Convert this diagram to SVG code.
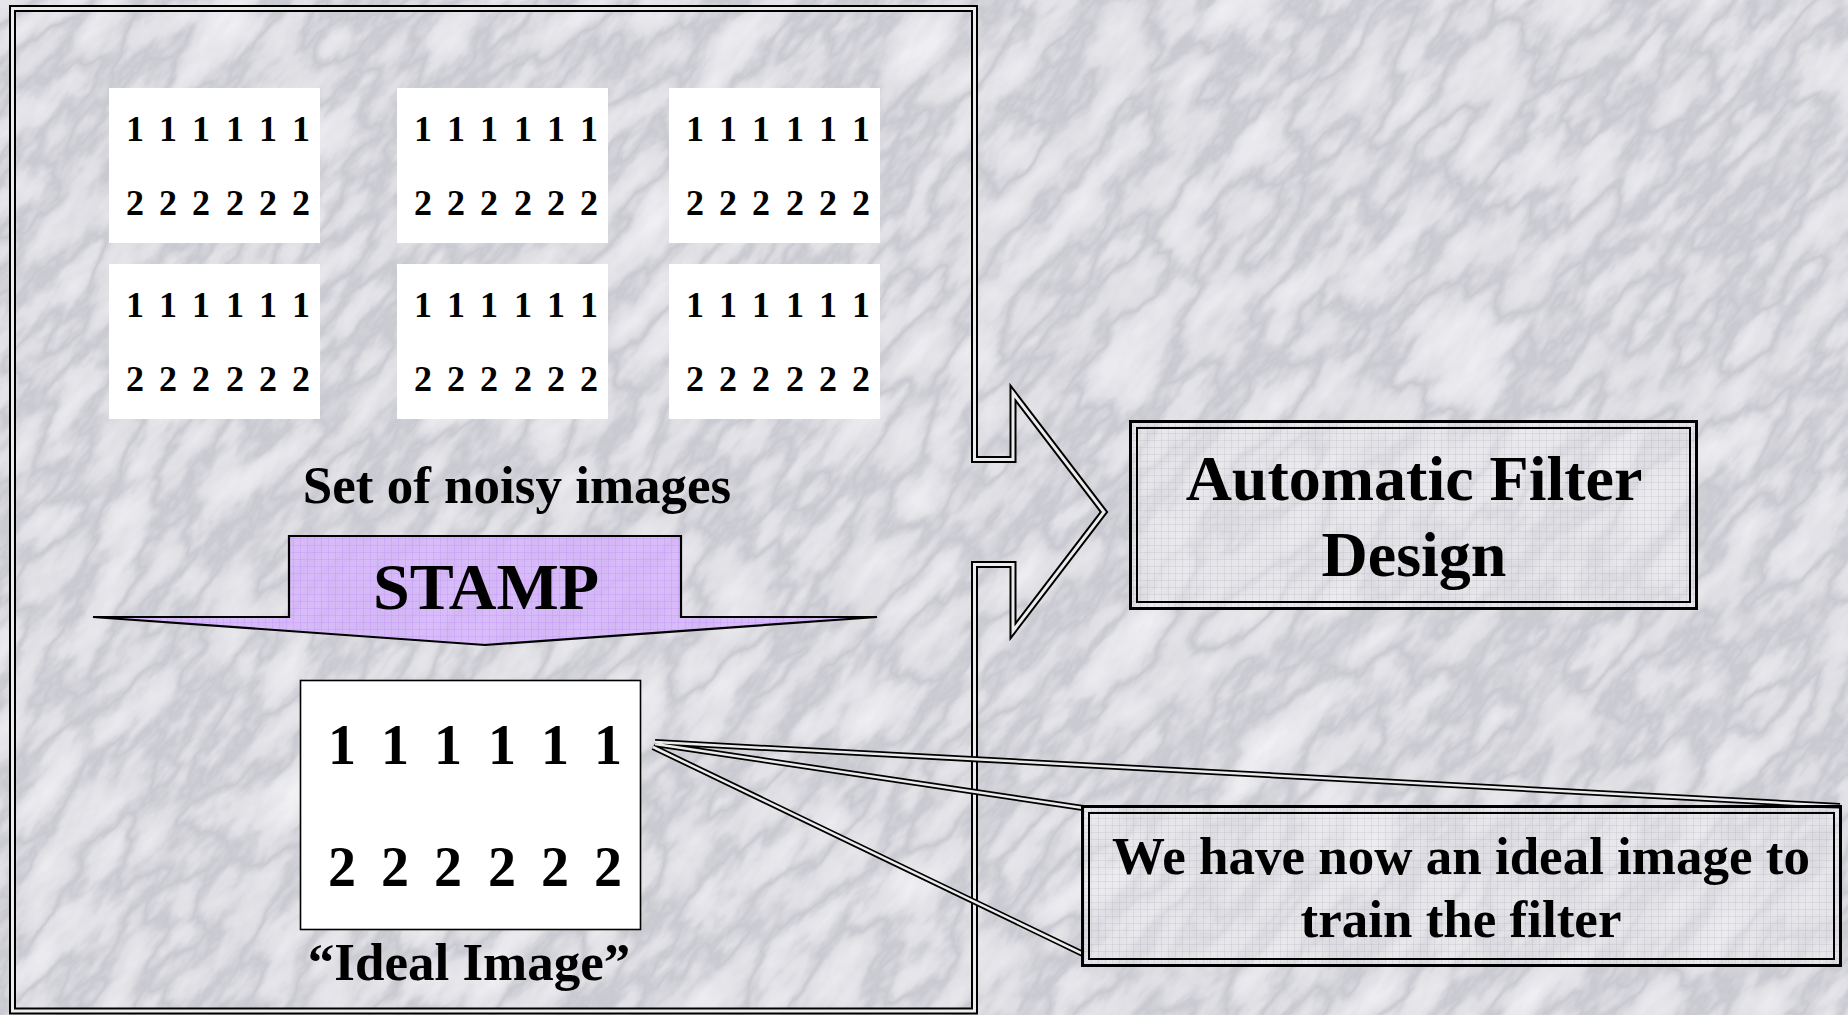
<svg xmlns="http://www.w3.org/2000/svg" width="1848" height="1015" viewBox="0 0 1848 1015">
<defs>
<filter id="marble" x="-700" y="-700" width="3300" height="2500" filterUnits="userSpaceOnUse" color-interpolation-filters="sRGB">
<feTurbulence type="fractalNoise" baseFrequency="0.009 0.022" numOctaves="5" seed="11"/>
<feColorMatrix type="matrix" values="1 0 0 0 0  1 0 0 0 0  1 0 0 0 0  0 0 0 0 1"/>
<feComponentTransfer>
<feFuncR type="table" tableValues="0.96 0.94 0.91 0.88 0.79 0.87 0.9 0.93 0.96"/>
<feFuncG type="table" tableValues="0.96 0.94 0.91 0.88 0.79 0.87 0.9 0.93 0.96"/>
<feFuncB type="table" tableValues="0.97 0.95 0.93 0.9 0.82 0.89 0.92 0.95 0.97"/>
</feComponentTransfer>
</filter>
<pattern id="grid" width="7" height="7" patternUnits="userSpaceOnUse">
<rect width="7" height="7" fill="#ececef" fill-opacity="0.5"/>
<path d="M7 0V7H0" fill="none" stroke="#8f8f9a" stroke-opacity="0.3" stroke-width="1"/>
</pattern>
<pattern id="lav" width="7" height="7" patternUnits="userSpaceOnUse">
<rect width="7" height="7" fill="#d6b2fc" fill-opacity="0.82"/>
<path d="M7 0V7H0" fill="none" stroke="#b47cf2" stroke-opacity="0.45" stroke-width="1"/>
</pattern>
<style>
.t{font-family:"Liberation Serif","Times New Roman",serif;font-weight:bold;fill:#000;text-anchor:middle}
.nd{font-size:36px}
.id{font-size:56px}
.lb{font-size:53px}
.img{fill:#fff}
.dl1{fill:none;stroke:#000;stroke-width:7;stroke-linejoin:miter}
.dl2{fill:none;stroke:#ececec;stroke-width:3;stroke-linejoin:miter}
.ln1{fill:none;stroke:#000;stroke-width:6}
.ln2{fill:none;stroke:#ececec;stroke-width:2.5}
.box{fill:url(#grid)}
.bo{fill:none;stroke:#000;stroke-width:3}
.bi{fill:none;stroke:#000;stroke-width:2}
</style>
</defs>

<g id="background">
<rect width="1848" height="1015" fill="#dcdce0"/>
<g transform="rotate(-50 924 507)">
<rect x="-700" y="-700" width="3300" height="2500" fill="#ddd" filter="url(#marble)"/>
</g>
</g>

<g id="frame-arrow">
<path class="dl1" d="M12.5,8.5 H974.5 V459.5 H1013 V393 L1104,512 L1013,631 V564.5 H974.5 V1011 H12.5 Z"/>
<path class="dl2" d="M12.5,8.5 H974.5 V459.5 H1013 V393 L1104,512 L1013,631 V564.5 H974.5 V1011 H12.5 Z"/>
</g>

<g id="noisy-1" transform="translate(109 88)">
<rect class="img" width="211" height="155"/>
<text class="t nd" x="26 59 92 126 159 192" y="53">111111</text>
<text class="t nd" x="26 59 92 126 159 192" y="127">222222</text>
</g>
<g id="noisy-2" transform="translate(397 88)">
<rect class="img" width="211" height="155"/>
<text class="t nd" x="26 59 92 126 159 192" y="53">111111</text>
<text class="t nd" x="26 59 92 126 159 192" y="127">222222</text>
</g>
<g id="noisy-3" transform="translate(669 88)">
<rect class="img" width="211" height="155"/>
<text class="t nd" x="26 59 92 126 159 192" y="53">111111</text>
<text class="t nd" x="26 59 92 126 159 192" y="127">222222</text>
</g>
<g id="noisy-4" transform="translate(109 264)">
<rect class="img" width="211" height="155"/>
<text class="t nd" x="26 59 92 126 159 192" y="53">111111</text>
<text class="t nd" x="26 59 92 126 159 192" y="127">222222</text>
</g>
<g id="noisy-5" transform="translate(397 264)">
<rect class="img" width="211" height="155"/>
<text class="t nd" x="26 59 92 126 159 192" y="53">111111</text>
<text class="t nd" x="26 59 92 126 159 192" y="127">222222</text>
</g>
<g id="noisy-6" transform="translate(669 264)">
<rect class="img" width="211" height="155"/>
<text class="t nd" x="26 59 92 126 159 192" y="53">111111</text>
<text class="t nd" x="26 59 92 126 159 192" y="127">222222</text>
</g>

<g id="noisy-label">
<text class="t lb" x="517" y="503">Set of noisy images</text>
</g>

<g id="stamp">
<path d="M93,617 H289 V536 H681 V617 H877 L485,645 Z" fill="url(#lav)" stroke="#000" stroke-width="2.2" stroke-linejoin="miter"/>
<text class="t" x="486" y="609" font-size="66">STAMP</text>
</g>

<g id="connectors">
<path class="ln1" d="M655,742 L1840,806 M655,744 L1083,808 M653,747 L1083,954"/>
<path class="ln2" d="M655,742 L1840,806 M655,744 L1083,808 M653,747 L1083,954"/>
</g>

<g id="ideal-image">
<rect x="300.5" y="680.5" width="340" height="249" fill="#fff" stroke="#000" stroke-width="1.6"/>
<text class="t id" x="342 395 448 502 555 608" y="764">111111</text>
<text class="t id" x="342 395 448 502 555 608" y="886">222222</text>
</g>

<g id="ideal-label">
<text class="t lb" x="469" y="980">“Ideal Image”</text>
</g>

<g id="filter-design">
<rect class="box" x="1130.5" y="421.5" width="566" height="187"/>
<rect class="bo" x="1130.5" y="421.5" width="566" height="187"/>
<rect class="bi" x="1137" y="428" width="553" height="174"/>
<text class="t" x="1414" y="500" font-size="64">Automatic Filter</text>
<text class="t" x="1414" y="576" font-size="64">Design</text>
</g>

<g id="callout">
<rect class="box" x="1082.5" y="806.5" width="758" height="159"/>
<rect class="bo" x="1082.5" y="806.5" width="758" height="159"/>
<rect class="bi" x="1089" y="813" width="745" height="146"/>
<text class="t lb" x="1461" y="874">We have now an ideal image to</text>
<text class="t lb" x="1461" y="937">train the filter</text>
</g>
</svg>
